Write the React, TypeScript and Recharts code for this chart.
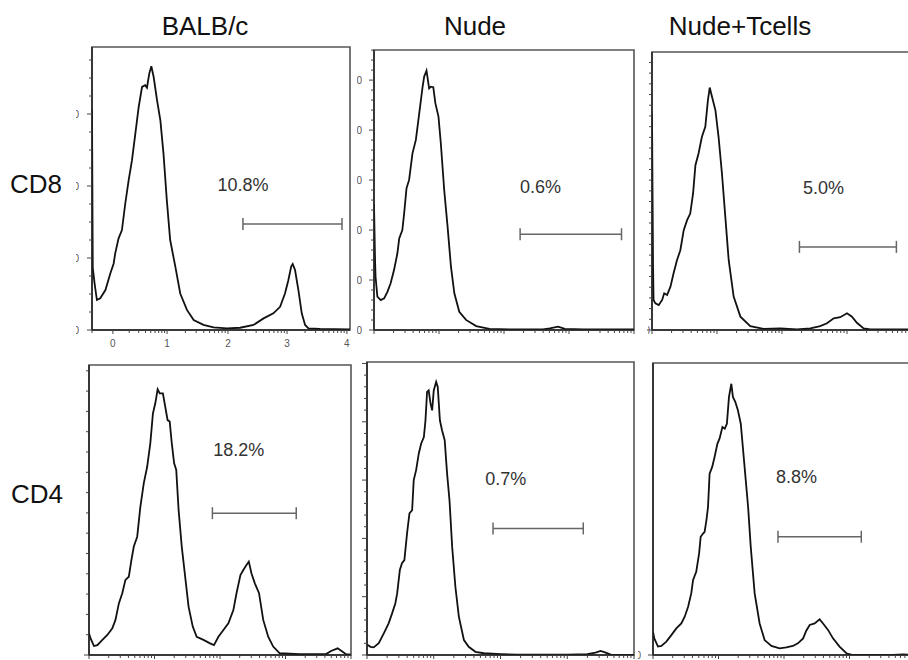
import React from 'react';
import { LineChart, Line, XAxis, YAxis, ReferenceDot, ReferenceArea } from 'recharts';

const columnTitles = ['BALB/c', 'Nude', 'Nude+Tcells'];
const rowTitles = ['CD8', 'CD4'];

// histogram traces: x = channel across the plot (0-1000), y = % of plot height
const balbCd8X = [0, 3, 10, 19, 32, 52, 71, 84, 90, 103, 116, 129, 142, 155, 168, 181, 194, 206, 213, 222, 230, 239, 252, 265, 277, 290, 303, 323, 342, 368, 394, 432, 471, 523, 574, 626, 665, 703, 729, 748, 761, 772, 778, 787, 800, 813, 826, 839, 884, 1000];
const balbCd8Y = [78, 22, 16.5, 10.6, 11.2, 14.1, 20, 23.5, 27.1, 32.4, 35.3, 44.7, 52.9, 60, 69.4, 78.8, 85.9, 86.5, 85.6, 90.6, 93.2, 89.4, 81.2, 74.1, 62.4, 45.9, 31.8, 22.4, 12.9, 7.1, 3.5, 1.8, 0.9, 0.6, 0.8, 1.8, 4.1, 5.9, 8.2, 12.9, 17.6, 22.4, 23.3, 21.2, 14.1, 5.9, 1.8, 0.6, 0.4, 0.2];

const nudeCd8X = [0, 4, 6, 13, 26, 39, 52, 64, 77, 90, 97, 109, 116, 125, 135, 148, 161, 174, 187, 193, 202, 212, 219, 228, 236, 248, 257, 270, 283, 296, 309, 328, 354, 393, 444, 521, 650, 676, 708, 734, 804, 1000];
const nudeCd8Y = [45, 25, 19, 11.9, 10.7, 11.3, 13.7, 16.7, 21.4, 27.4, 32.7, 35.7, 41.7, 50.6, 53.6, 63.1, 67.9, 77.4, 86.9, 90.5, 92.6, 86.3, 86.9, 86.7, 81, 76.2, 66.7, 50, 36.9, 22.6, 13.1, 6.5, 3.6, 1.4, 0.4, 0.2, 0.2, 0.6, 1.2, 0.4, 0.2, 0.2];

const nudeTCd8X = [0, 4, 6, 13, 26, 39, 47, 58, 71, 83, 96, 109, 122, 135, 147, 158, 167, 179, 192, 205, 215, 222, 231, 244, 256, 269, 282, 295, 314, 340, 378, 429, 494, 558, 609, 647, 673, 699, 724, 750, 769, 788, 814, 840, 1000];
const nudeTCd8Y = [77.8, 22.8, 10.8, 9.6, 9, 10.8, 13.2, 12.6, 15.6, 20.4, 25.1, 28.7, 35.9, 39.5, 41.9, 49.1, 59.3, 63.5, 69.5, 73.1, 82.6, 87.2, 83.8, 79, 69.5, 56.3, 40.7, 25.1, 12, 4.8, 1.4, 0.4, 0.6, 0.2, 0.6, 1.4, 2.4, 4.2, 4.6, 6, 4.8, 2.6, 0.6, 0.2, 0.2];

const balbCd4X = [0, 6, 19, 32, 51, 70, 89, 101, 114, 127, 139, 152, 162, 171, 184, 196, 209, 222, 234, 244, 253, 262, 270, 282, 291, 300, 308, 316, 325, 333, 342, 354, 367, 380, 396, 411, 437, 462, 477, 494, 513, 532, 551, 563, 578, 589, 601, 610, 620, 633, 649, 665, 684, 703, 728, 804, 905, 924, 949, 968, 981, 1000];
const balbCd4Y = [7.5, 5.7, 3.1, 3.4, 5.2, 6.9, 9.2, 12.1, 17.8, 21.3, 25.9, 27, 32.8, 37.4, 40.8, 51.1, 59.2, 64.9, 73, 83.3, 86.8, 91.6, 90.2, 90.2, 85.6, 81, 80.5, 73, 66.1, 63.8, 50, 37.4, 27, 16.7, 9.8, 6.3, 5.2, 4, 3.4, 6.3, 8.6, 10.9, 15.5, 21.3, 27.6, 29.3, 31, 32.2, 28.2, 24.7, 21.3, 12.1, 6.3, 2.9, 0.6, 0.3, 0.3, 1.4, 2.3, 1.1, 0.3, 0.1];

const nudeCd4X = [0, 13, 25, 44, 63, 81, 94, 106, 113, 123, 131, 140, 150, 159, 169, 175, 184, 194, 203, 213, 219, 225, 231, 238, 244, 250, 259, 265, 273, 281, 291, 300, 309, 319, 331, 344, 363, 381, 406, 438, 500, 563, 750, 825, 856, 875, 894, 913, 1000];
const nudeCd4Y = [3.6, 2.8, 2.6, 4, 7.4, 10.8, 14.2, 17.6, 21, 29, 31.3, 32.4, 41.5, 48.3, 49.4, 59.7, 63.1, 68.8, 72.2, 74.4, 80.1, 89.8, 90.3, 85.8, 83.5, 90.3, 93.2, 91.5, 80.1, 76.7, 73.3, 61.9, 52.8, 36.9, 23.3, 13.1, 5.1, 2.8, 1.1, 0.6, 0.3, 0.1, 0.1, 0.3, 0.8, 1.4, 0.8, 0.1, 0];

const nudeTCd4X = [0, 5, 19, 32, 51, 70, 89, 108, 121, 134, 146, 153, 165, 176, 182, 191, 197, 204, 210, 216, 226, 235, 246, 254, 265, 274, 282, 290, 299, 305, 314, 324, 335, 344, 354, 363, 373, 388, 407, 426, 452, 483, 509, 534, 553, 573, 585, 598, 617, 636, 649, 668, 687, 712, 738, 763, 916, 954, 1000];
const nudeTCd4Y = [8, 5.7, 2.9, 3.1, 4.6, 6.8, 9.1, 10.8, 13.1, 16.5, 21.1, 25.7, 28.5, 34.8, 40.5, 41.6, 42.2, 46.2, 50.7, 62.1, 64.4, 67.8, 72.4, 74.1, 78.1, 77.5, 79.2, 88.4, 92.9, 88.4, 86.7, 83.8, 79.2, 70.1, 59.9, 50.7, 37.1, 21.1, 10.8, 5.1, 3.1, 2.3, 2.6, 3.1, 4, 5.7, 8.3, 10.3, 10.8, 12.2, 10.8, 8.6, 5.7, 2.9, 0.6, 0, 0, 0.2, 0];

// gates (marker bars) and their percentages
const gateText = ['10.8%', '0.6%', '5.0%', '18.2%', '0.7%', '8.8%'];
const gateFrom = [585, 562, 567, 471, 472, 477];
const gateTo = [969, 952, 940, 791, 810, 795];
const gateLevel = [37.5, 34.2, 29.9, 48.9, 43.2, 40.5];
const gateTextX = [585, 640, 660, 572, 520, 548];
const gateTextLevel = [51.2, 51.2, 50.9, 70.7, 60.2, 61];

// axis decades and labels
const decadesBalbCd8 = [81, 291, 527, 756, 988];
const decadesLog = [0, 250, 500, 750, 1000];
const balbCd8AxisLabels = ['0', '1', '2', '3', '4'];
const yTickLabels = [['0', '100', '200', '300'], ['0', '100', '200', '300', '400', '500'], ['0'], [], [], ['0']];

const L = 30;
const R = 4;
const T = 4;
const B = 22;

const panels = [
  { left: 92, top: 47, w: 258, h: 283, xs: balbCd8X, ys: balbCd8Y, decades: decadesBalbCd8, xLabels: balbCd8AxisLabels, yStep: 6.36, majorEvery: 4, frag: [13, 3] },
  { left: 374, top: 50, w: 260, h: 280, xs: nudeCd8X, ys: nudeCd8Y, decades: decadesLog, xLabels: [], yStep: 3.57, majorEvery: 5, frag: [12, 5] },
  { left: 652, top: 52, w: 260, h: 278, xs: nudeTCd8X, ys: nudeTCd8Y, decades: decadesLog, xLabels: [], yStep: 3.85, majorEvery: 999, frag: [2, 2] },
  { left: 89, top: 365, w: 262, h: 290, xs: balbCd4X, ys: balbCd4Y, decades: decadesLog, xLabels: [], yStep: 7, majorEvery: 999, frag: null },
  { left: 367, top: 362, w: 267, h: 293, xs: nudeCd4X, ys: nudeCd4Y, decades: decadesLog, xLabels: [], yStep: 3.98, majorEvery: 5, frag: null },
  { left: 653, top: 363, w: 262, h: 292, xs: nudeTCd4X, ys: nudeTCd4Y, decades: decadesLog, xLabels: [], yStep: 0, majorEvery: 1, frag: [12, 3] },
];

const FONT = '"Liberation Sans", Arial, Helvetica, sans-serif';

function logTicks(dec: number[], withEdge: boolean) {
  const out: number[] = withEdge ? [0] : [];
  for (let d = 0; d < dec.length - 1; d++) {
    const span = dec[d + 1] - dec[d];
    for (let m = 1; m < 10; m++) out.push(dec[d] + Math.log10(m) * span);
  }
  out.push(dec[dec.length - 1]);
  return out;
}

function yTicks(step: number) {
  if (!step) return [0];
  const out: number[] = [];
  for (let i = 0; i * step <= 100; i++) out.push(i * step);
  return out;
}

const XTick = (props: any) => {
  const { x, y, payload, decades, labels } = props;
  const di = decades.findIndex((d: number) => Math.abs(d - payload.value) < 0.01);
  return (
    <g>
      <line x1={x} x2={x} y1={y} y2={y + (di >= 0 ? 4 : 3)} stroke="#444" strokeWidth={1} />
      {di >= 0 && labels[di] ? (
        <text x={x} y={y + 17} textAnchor="middle" fontSize={10} fill="#555" fontFamily={FONT}>
          {labels[di]}
        </text>
      ) : null}
    </g>
  );
};

const YTick = (props: any) => {
  const { x, y, index, panelIdx, majorEvery, labels, frag } = props;
  const major = index % majorEvery === 0;
  const label = major ? labels[index / majorEvery] : undefined;
  const id = `yclip-${panelIdx}-${index}`;
  return (
    <g>
      <line x1={x - (major ? 5 : 3)} x2={x} y1={y} y2={y} stroke="#444" strokeWidth={1} />
      {label && frag ? (
        <g>
          <defs>
            <clipPath id={id}>
              <rect x={x - frag[0] - frag[1]} y={y - 8} width={frag[1]} height={16} />
            </clipPath>
          </defs>
          <text x={x - frag[0]} y={y} textAnchor="end" dominantBaseline="central" fontSize={10} fill="#555" fontFamily={FONT} clipPath={`url(#${id})`}>
            {label}
          </text>
        </g>
      ) : null}
    </g>
  );
};

const Panel = ({ p, idx }: { p: (typeof panels)[number]; idx: number }) => {
  const trace = p.xs.map((x, i) => ({ x, y: p.ys[i] }));
  const gate = [
    { x: gateFrom[idx], y: gateLevel[idx] },
    { x: gateTo[idx], y: gateLevel[idx] },
  ];
  return (
    <div style={{ position: 'absolute', left: p.left - L, top: p.top - T }}>
      <LineChart width={p.w + L + R} height={p.h + T + B} margin={{ top: T, right: R, bottom: 0, left: 0 }}>
        <XAxis
          xAxisId="b"
          dataKey="x"
          type="number"
          domain={[0, 1000]}
          allowDataOverflow
          ticks={logTicks(p.decades, idx === 0)}
          interval={0}
          tickSize={0}
          tickMargin={0}
          tickLine={false}
          height={B}
          axisLine={{ stroke: '#222', strokeWidth: 1.5 }}
          tick={(tp: any) => <XTick {...tp} decades={p.decades} labels={p.xLabels} />}
        />
        <YAxis
          yAxisId="l"
          type="number"
          domain={[0, 100]}
          allowDataOverflow
          ticks={yTicks(p.yStep)}
          interval={0}
          tickSize={0}
          tickMargin={0}
          tickLine={false}
          width={L}
          axisLine={{ stroke: '#222', strokeWidth: 1.5 }}
          tick={(tp: any) => <YTick {...tp} panelIdx={idx} majorEvery={p.majorEvery} labels={yTickLabels[idx]} frag={p.frag} />}
        />
        <ReferenceArea xAxisId="b" yAxisId="l" x1={0} x2={1000} y1={0} y2={100} fill="none" fillOpacity={0} stroke="#555" strokeWidth={1.6} ifOverflow="visible" />
        <Line xAxisId="b" yAxisId="l" data={trace} dataKey="y" type="linear" stroke="#111" strokeWidth={1.8} dot={false} isAnimationActive={false} />
        <Line
          xAxisId="b"
          yAxisId="l"
          data={gate}
          dataKey="y"
          type="linear"
          stroke="#666"
          strokeWidth={1.5}
          isAnimationActive={false}
          dot={(d: any) => <line key={`cap-${d.index}`} x1={d.cx} x2={d.cx} y1={d.cy - 6} y2={d.cy + 6} stroke="#666" strokeWidth={1.5} />}
        />
        <ReferenceDot
          xAxisId="b"
          yAxisId="l"
          x={gateTextX[idx]}
          y={gateTextLevel[idx]}
          r={0}
          shape={(sp: any) => (
            <text x={sp.cx} y={sp.cy} textAnchor="middle" dominantBaseline="central" fontSize={18} fill="#333" fontFamily={FONT}>
              {gateText[idx]}
            </text>
          )}
        />
      </LineChart>
    </div>
  );
};

const titleCenters = [205, 475, 740];
const rowBaselines = [193, 503];

export default function App() {
  return (
    <div style={{ position: 'absolute', left: 0, top: 0, width: 908, height: 660, overflow: 'hidden', background: '#fff' }}>
      <svg width={908} height={660} style={{ position: 'absolute', left: 0, top: 0 }}>
        {columnTitles.map((t, i) => (
          <text key={t} x={titleCenters[i]} y={35} textAnchor="middle" fontSize={26} fill="#111" fontFamily={FONT}>
            {t}
          </text>
        ))}
        {rowTitles.map((t, i) => (
          <text key={t} x={i === 0 ? 10 : 11} y={rowBaselines[i]} fontSize={26} fill="#111" fontFamily={FONT}>
            {t}
          </text>
        ))}
      </svg>
      {panels.map((p, i) => (
        <Panel key={i} p={p} idx={i} />
      ))}
    </div>
  );
}
